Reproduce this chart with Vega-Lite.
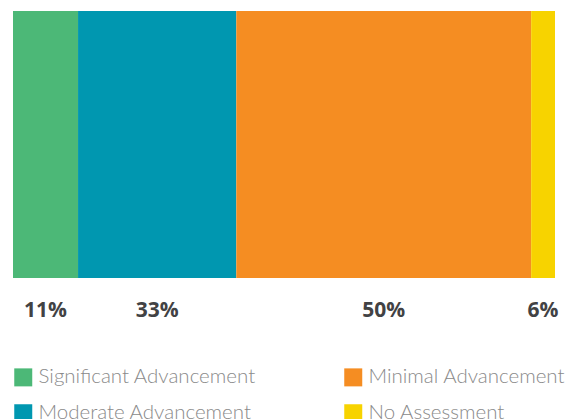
{
  "$schema": "https://vega.github.io/schema/vega-lite/v6.json",
  "width": 542,
  "height": 267,
  "padding": {"left": 13, "top": 11, "right": 18, "bottom": 5},
  "background": "white",
  "config": {"view": {"stroke": null}},
  "data": {
    "values": [
      {"category": "Significant Advancement", "share": 12.0, "label": "11%", "idx": 1},
      {"category": "Moderate Advancement", "share": 29.2, "label": "33%", "idx": 2},
      {"category": "Minimal Advancement", "share": 54.4, "label": "50%", "idx": 3},
      {"category": "No Assessment", "share": 4.4, "label": "6%", "idx": 4}
    ]
  },
  "transform": [
    {"stack": "share", "groupby": [], "sort": [{"field": "idx", "order": "ascending"}], "as": ["x0", "x1"], "offset": "zero"}
  ],
  "layer": [
    {
      "mark": {"type": "bar", "cornerRadius": 0},
      "encoding": {
        "x": {"field": "x0", "type": "quantitative", "scale": {"domain": [0, 100], "nice": false, "zero": true}, "axis": null},
        "x2": {"field": "x1"},
        "y": {"datum": 0, "type": "quantitative", "scale": {"domain": [0, 1], "nice": false, "zero": true}, "axis": null},
        "y2": {"datum": 1},
        "color": {
          "field": "category",
          "type": "nominal",
          "scale": {
            "domain": ["Significant Advancement", "Minimal Advancement", "Moderate Advancement", "No Assessment"],
            "range": ["#4cb877", "#f58d22", "#0097b0", "#f7d300"]
          },
          "legend": {
            "title": null,
            "orient": "none",
            "legendX": 0,
            "legendY": 356,
            "direction": "horizontal",
            "columns": 2,
            "symbolType": "square",
            "symbolSize": 324,
            "symbolStrokeWidth": 0,
            "symbolOpacity": 1,
            "labelFont": "Lato",
            "labelFontWeight": 300,
            "labelFontSize": 20.5,
            "labelColor": "#8a8a8a",
            "labelOffset": 5,
            "labelLimit": 400,
            "columnPadding": 87,
            "rowPadding": 15
          }
        }
      }
    },
    {
      "transform": [
        {"fold": ["x0", "x1"], "as": ["edge", "pos"]}
      ],
      "mark": {"type": "text", "dy": 39, "baseline": "alphabetic", "align": "center", "font": "Open Sans", "fontWeight": "bold", "fontSize": 21, "color": "#424244"},
      "encoding": {
        "x": {"aggregate": "mean", "field": "pos", "type": "quantitative"},
        "y": {"datum": 0, "type": "quantitative"},
        "text": {"field": "label", "type": "nominal"}
      }
    }
  ]
}
